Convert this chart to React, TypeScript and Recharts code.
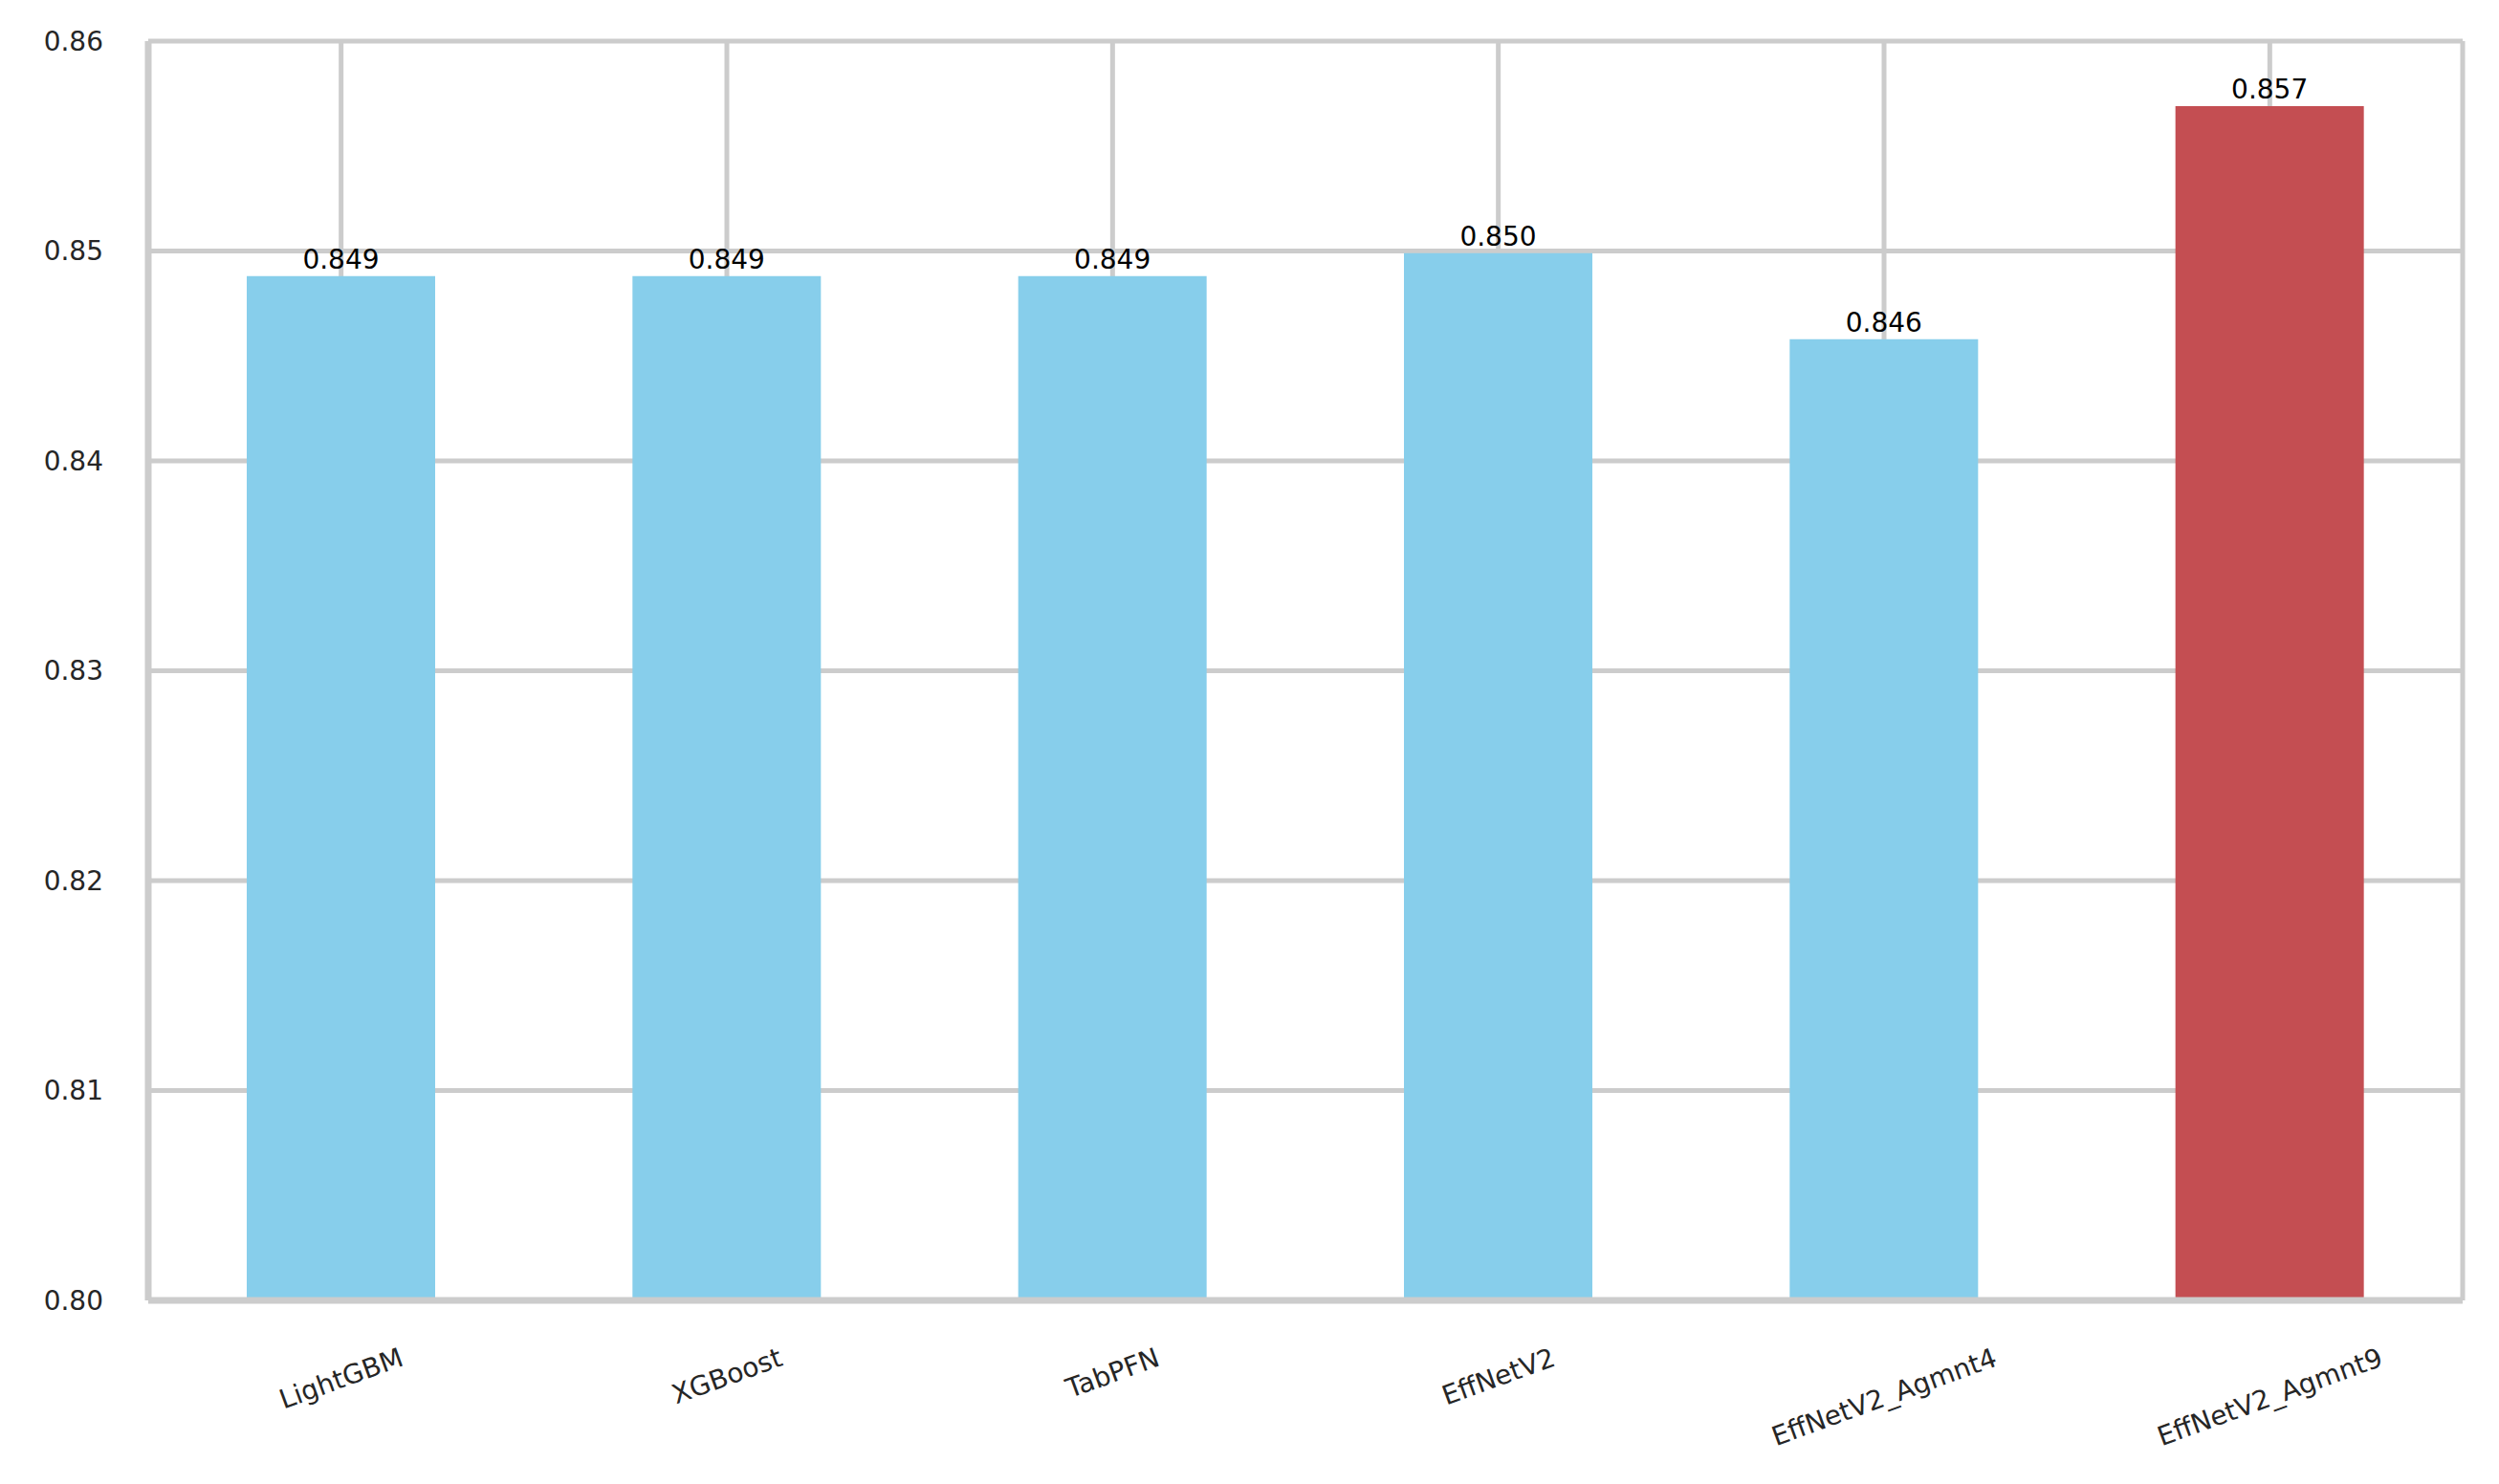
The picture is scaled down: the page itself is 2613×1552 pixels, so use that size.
import {
  BarChart,
  Bar,
  XAxis,
  YAxis,
  CartesianGrid,
  Cell,
  LabelList,
} from 'recharts';

const models = ['LightGBM', 'XGBoost', 'TabPFN', 'EffNetV2', 'EffNetV2_Agmnt4', 'EffNetV2_Agmnt9'];
const scores = [0.8488, 0.8488, 0.8488, 0.8499, 0.8458, 0.8569];
const yTicks = [0.8, 0.81, 0.82, 0.83, 0.84, 0.85, 0.86];

const BLUE = '#87ceeb';
const RED = '#c44e52';
const GRID = '#cccccc';
const FONT = 'DejaVu Sans, sans-serif';
const TICK_FS = 28;
const ANGLE = 20;

const data = models.map((name, i) => ({name, score: scores[i]}));

let ctx: CanvasRenderingContext2D | null = null;
const textWidth = (s: string) => {
  if (!ctx) ctx = document.createElement('canvas').getContext('2d');
  if (!ctx) return s.length * TICK_FS * 0.6;
  ctx.font = `${TICK_FS}px ${FONT}`;
  return ctx.measureText(s).width;
};

// matplotlib style: rotated label's bounding box hangs from its top edge, centred on the tick
const XTick = (props: any) => {
  const {x, y, payload} = props;
  const rad = (ANGLE * Math.PI) / 180;
  const w = textWidth(String(payload.value));
  const h = TICK_FS * 1.17;
  const boxH = w * Math.sin(rad) + h * Math.cos(rad);
  const top = y + 35;
  return (
    <g transform={`translate(${x},${top + boxH / 2})`}>
      <text
        transform={`rotate(${-ANGLE})`}
        textAnchor="middle"
        dy="0.35em"
        fontSize={TICK_FS}
        fontFamily={FONT}
        fill="#262626"
      >
        {payload.value}
      </text>
    </g>
  );
};

const App = () => {
  return (
    <div style={{position: 'absolute', left: 0, top: 0, background: '#fff'}}>
      <BarChart
        width={2613}
        height={1552}
        data={data}
        margin={{top: 43, right: 38, bottom: 42, left: 35}}
        barSize={197}
      >
        <CartesianGrid xAxisId="main" yAxisId="main" stroke={GRID} strokeWidth={5} />
        <XAxis
          dataKey="name"
          xAxisId="main"
          height={150}
          tickLine={false}
          axisLine={{stroke: GRID, strokeWidth: 7}}
          tick={<XTick />}
          interval={0}
        />
        <XAxis
          dataKey="name"
          xAxisId="top"
          orientation="top"
          height={0}
          tick={false}
          tickLine={false}
          axisLine={{stroke: GRID, strokeWidth: 7}}
        />
        <YAxis
          yAxisId="main"
          domain={[0.8, 0.86]}
          ticks={yTicks}
          width={120}
          tickLine={false}
          tickSize={20}
          tickMargin={27}
          allowDataOverflow
          axisLine={{stroke: GRID, strokeWidth: 7}}
          tickFormatter={(v: number) => v.toFixed(2)}
          tick={{fontSize: TICK_FS, fontFamily: FONT, fill: '#262626'}}
        />
        <YAxis
          yAxisId="right"
          orientation="right"
          domain={[0.8, 0.86]}
          width={0}
          tick={false}
          tickLine={false}
          axisLine={{stroke: GRID, strokeWidth: 7}}
        />
        <Bar dataKey="score" xAxisId="main" yAxisId="main" isAnimationActive={false}>
          {data.map((_, i) => (
            <Cell key={`cell-${i}`} fill={i === data.length - 1 ? RED : BLUE} />
          ))}
          <LabelList
            dataKey="score"
            position="top"
            offset={8}
            formatter={(v: number) => v.toFixed(3)}
            fontSize={TICK_FS}
            fontFamily={FONT}
            fill="#000"
          />
        </Bar>
      </BarChart>
    </div>
  );
};

export default App;
